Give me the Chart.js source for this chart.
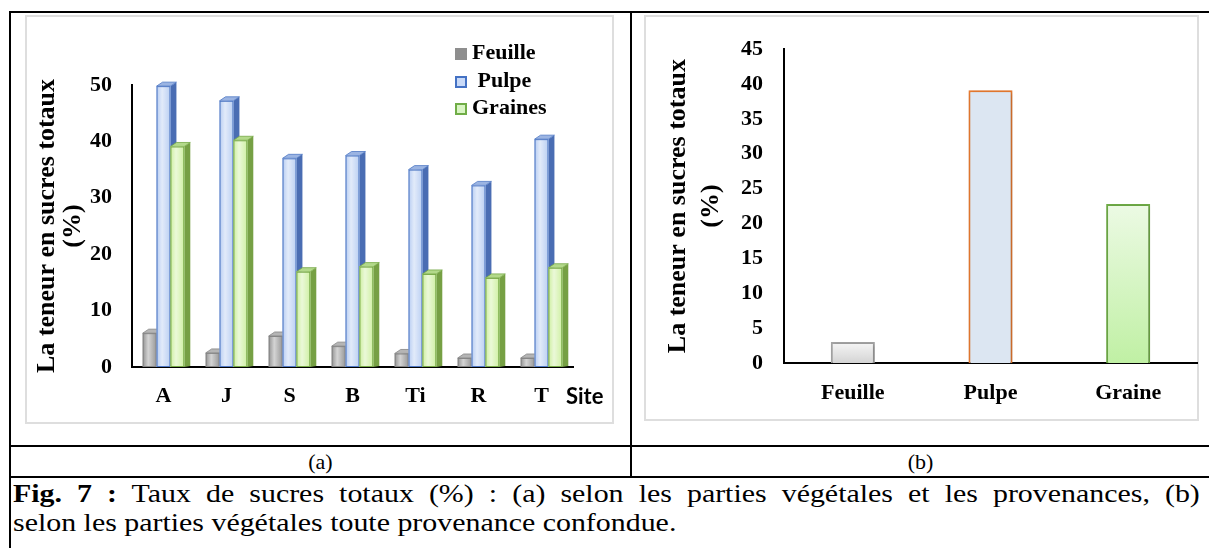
<!DOCTYPE html>
<html>
<head>
<meta charset="utf-8">
<script src="https://cdn.jsdelivr.net/npm/chart.js@4.4.1/dist/chart.umd.min.js"></script>
<style>
  html, body { margin: 0; padding: 0; background: #fff; }
  body { width: 1209px; height: 548px; position: relative; overflow: hidden;
         font-family: "Liberation Serif", "Times New Roman", serif; color: #000; }
  .ln { position: absolute; background: #000; }
  .frame { position: absolute; border: 2px solid #dedede; box-sizing: border-box; }
  canvas { position: absolute; }
  #legend { position: absolute; left: 455px; top: 38px; font: bold 22px "Liberation Serif", serif; }
  #legend div { height: 27.5px; line-height: 27.5px; white-space: pre; }
  #legend i { display: inline-block; width: 12px; height: 12px; box-sizing: border-box;
              margin-right: 5px; vertical-align: -1px; }
  .sub { position: absolute; top: 448px; height: 28px; line-height: 28px; text-align: center; font-size: 22px; }
  #cap { position: absolute; left: 13px; top: 479px; width: 1032px; font-size: 26px; line-height: 29px;
         transform: scaleX(1.15); transform-origin: 0 0; }
  #cap .l1 { text-align: justify; text-align-last: justify; }
</style>
</head>
<body>
<!-- cadre du tableau -->
<div class="ln" style="left:10px;top:11px;width:1199px;height:2px"></div>
<div class="ln" style="left:9px;top:11px;width:2px;height:537px"></div>
<div class="ln" style="left:630px;top:11px;width:2px;height:465px"></div>
<div class="ln" style="left:10px;top:445px;width:1199px;height:2px"></div>
<div class="ln" style="left:10px;top:476px;width:1199px;height:2px"></div>

<div class="frame" style="left:25px;top:15px;width:589px;height:409px"></div>
<div class="frame" style="left:644px;top:15px;width:555px;height:406px"></div>
<canvas id="chartA" width="588" height="408" style="left:25px;top:15px"></canvas>
<canvas id="chartB" width="554" height="405" style="left:644px;top:15px"></canvas>
<div id="legend"></div>

<div class="sub" style="left:11px;width:619px">(a)</div>
<div class="sub" style="left:632px;width:577px">(b)</div>
<div id="cap">
  <div class="l1"><b>Fig. 7 :</b> Taux de sucres totaux (%) : (a) selon les parties végétales et les provenances, (b)</div>
  <div>selon les parties végétales toute provenance confondue.</div>
</div>

<script>
// (a) teneur par site et par partie végétale
const SITES = ["A", "J", "S", "B", "Ti", "R", "T"];
const FEUILLE = [6.0, 2.5, 5.5, 3.7, 2.4, 1.6, 1.6];
const PULPE = [49.8, 47.2, 37.0, 37.5, 35.0, 32.2, 40.4];
const GRAINES = [39.1, 40.2, 16.9, 17.8, 16.5, 15.8, 17.6];
const Y_A = { min: 0, max: 50, step: 10 };

// (b) toutes provenances confondues
const PARTIES = ["Feuille", "Pulpe", "Graine"];
const MOYENNES = [3.0, 39.1, 22.8];
const Y_B = { min: 0, max: 45, step: 5 };

const SERIF = "'Liberation Serif', 'Times New Roman', serif";
const tickFont = { family: SERIF, size: 22, weight: "bold" };

// faces des barres 3D (a): face avant, bord, côté, dessus
const BAR3D = [
  { front: "#939393", edge: "#858585", side: "#6e6e6e", top: "#b5b5b5", swatch: "background:#8e8e8e" },
  { front: "#b7cdf2", edge: "#4f78c4", side: "#4a6db3", top: "#9bb4e2", swatch: "background:#c9daf8;border:2px solid #4472c4" },
  { front: "#cdef9f", edge: "#76a846", side: "#76a044", top: "#b3d98a", swatch: "background:#d9f5c4;border:2px solid #70ad47" },
];
const DX = 6, DY = -4;

// redessine les barres en "3D" dans l'ordre Feuille -> Pulpe -> Graines (Graines devant)
const depth3d = {
  id: "depth3d",
  afterDatasetsDraw(chart, args, opts) {
    if (!opts.on) return;
    const ctx = chart.ctx;
    ctx.save();
    chart.data.datasets.forEach((ds, i) => {
      const st = BAR3D[i];
      chart.getDatasetMeta(i).data.forEach((b) => {
        const l = b.x - b.width / 2, r = b.x + b.width / 2, t = b.y, bo = b.base;
        ctx.fillStyle = st.side;
        ctx.beginPath();
        ctx.moveTo(r, t); ctx.lineTo(r + DX, t + DY); ctx.lineTo(r + DX, bo - 1); ctx.lineTo(r, bo);
        ctx.closePath(); ctx.fill();
        ctx.fillStyle = st.top;
        ctx.beginPath();
        ctx.moveTo(l, t); ctx.lineTo(l + DX, t + DY); ctx.lineTo(r + DX, t + DY); ctx.lineTo(r, t);
        ctx.closePath(); ctx.fill();
        ctx.strokeStyle = st.edge; ctx.lineWidth = 0.8; ctx.stroke();
        // face avant
        ctx.fillStyle = st.front;
        ctx.fillRect(l, t, r - l, bo - t);
        const g = ctx.createLinearGradient(l, 0, r, 0);
        g.addColorStop(0, "rgba(255,255,255,0)");
        g.addColorStop(0.4, "rgba(255,255,255,0.6)");
        g.addColorStop(1, "rgba(255,255,255,0.05)");
        ctx.fillStyle = g;
        ctx.fillRect(l, t, r - l, bo - t);
        ctx.strokeStyle = st.edge; ctx.lineWidth = 1;
        ctx.strokeRect(l + 0.5, t + 0.5, r - l - 1, bo - t - 1);
      });
    });
    ctx.restore();
  },
};

const siteLabel = {
  id: "siteLabel",
  afterDraw(chart, args, opts) {
    if (!opts.text) return;
    const ctx = chart.ctx, x = chart.scales.x;
    ctx.save();
    ctx.font = "bold 22px Lato, 'Open Sans', sans-serif";
    ctx.fillStyle = "#000";
    ctx.textBaseline = "middle";
    ctx.fillText(opts.text, x.right - 7, x.top + 30);
    ctx.restore();
  },
};

function fixedAxis(w, h) {
  return (s) => { if (w != null) s.width = w; if (h != null) s.height = h; };
}

// graphique (a)
new Chart(document.getElementById("chartA"), {
  type: "bar",
  data: {
    labels: SITES,
    datasets: [
      { label: "Feuille", data: FEUILLE },
      { label: "Pulpe", data: PULPE },
      { label: "Graines", data: GRAINES },
    ].map((d, i) => Object.assign(d, {
      backgroundColor: BAR3D[i].front, borderColor: BAR3D[i].edge, borderWidth: 1,
      categoryPercentage: 0.66, barPercentage: 1.0,
    })),
  },
  options: {
    responsive: false, animation: false,
    layout: { padding: { top: 70, right: 40, left: 0, bottom: 0 } },
    plugins: { legend: { display: false }, tooltip: { enabled: false },
               depth3d: { on: true }, siteLabel: { text: "Site" } },
    scales: {
      x: {
        grid: { display: false, drawTicks: false },
        border: { display: true, color: "#000", width: 2 },
        ticks: { color: "#000", font: tickFont, padding: 16, maxRotation: 0 },
        afterFit: fixedAxis(null, 56),
      },
      y: {
        min: Y_A.min, max: Y_A.max,
        grid: { display: false, drawTicks: false },
        border: { display: true, color: "#000", width: 2 },
        ticks: { color: "#000", font: tickFont, padding: 20, stepSize: Y_A.step },
        title: { display: true, text: ["La teneur en sucres totaux", "(%)"], color: "#000",
                 font: { family: SERIF, size: 26, weight: "bold", lineHeight: 1.0 },
                 padding: { top: 9, bottom: 0 } },
        afterFit: fixedAxis(107, null),
      },
    },
  },
  plugins: [depth3d, siteLabel],
});

// légende (a) construite depuis les séries
document.getElementById("legend").innerHTML = ["Feuille", " Pulpe", "Graines"]
  .map((t, i) => `<div><i style="${BAR3D[i].swatch}"></i>${t}</div>`).join("");

// graphique (b)
const FILL_B = [["#f6f6f6", "#d4d4d4"], ["#dce6f2", "#dce6f2"], ["#ecfae4", "#c0f0a4"]];
const EDGE_B = ["#a5a5a5", "#ed7d31", "#70ad47"];

function vGrad(c) {
  const pair = FILL_B[c.dataIndex] || FILL_B[1];
  const y = c.chart.scales && c.chart.scales.y;
  if (!y || c.raw == null) return pair[1];
  const y0 = y.getPixelForValue(c.raw), y1 = y.getPixelForValue(0);
  if (!isFinite(y0) || !isFinite(y1) || y0 === y1) return pair[1];
  const g = c.chart.ctx.createLinearGradient(0, y0, 0, y1);
  g.addColorStop(0, pair[0]); g.addColorStop(1, pair[1]);
  return g;
}

const shadowB = {
  id: "shadowB",
  beforeDatasetsDraw(chart) {
    const ctx = chart.ctx;
    ctx.save();
    ctx.shadowColor = "rgba(0,0,0,0.25)"; ctx.shadowBlur = 4; ctx.shadowOffsetX = 1; ctx.shadowOffsetY = 1;
  },
  afterDatasetsDraw(chart) { chart.ctx.restore(); },
};

new Chart(document.getElementById("chartB"), {
  type: "bar",
  data: {
    labels: PARTIES,
    datasets: [{
      data: MOYENNES, backgroundColor: vGrad, borderColor: EDGE_B, borderWidth: 2,
      barPercentage: 0.32, categoryPercentage: 1.0,
    }],
  },
  options: {
    responsive: false, animation: false,
    layout: { padding: { top: 28, right: 1, left: 0, bottom: 0 } },
    plugins: { legend: { display: false }, tooltip: { enabled: false } },
    scales: {
      x: {
        grid: { display: false, drawTicks: false },
        border: { display: true, color: "#000", width: 2 },
        ticks: { color: "#000", font: tickFont, padding: 17, maxRotation: 0 },
        afterFit: fixedAxis(null, 57),
      },
      y: {
        min: Y_B.min, max: Y_B.max,
        grid: { display: false, drawTicks: false },
        border: { display: true, color: "#000", width: 2 },
        ticks: { color: "#000", font: tickFont, padding: 21, stepSize: Y_B.step },
        title: { display: true, text: ["La teneur en sucres totaux", "(%)"], color: "#000",
                 font: { family: SERIF, size: 26, weight: "bold", lineHeight: 1.3 },
                 padding: { top: 17, bottom: 0 } },
        afterFit: fixedAxis(140, null),
      },
    },
  },
  plugins: [shadowB],
});
</script>
</body>
</html>
